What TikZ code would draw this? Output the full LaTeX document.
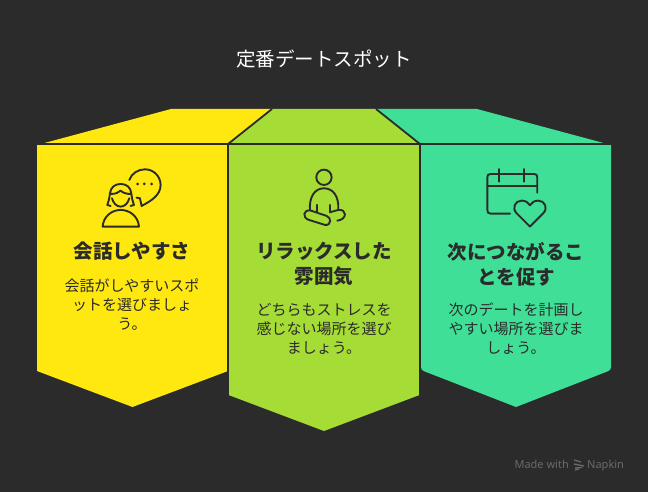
\documentclass[tikz,border=0pt]{standalone}
\usepackage{fontspec}
\setmainfont{Noto Sans CJK JP}
\newfontfamily\latinfont{Noto Sans}
\definecolor{bgc}{HTML}{2B2B2B}
\definecolor{yel}{HTML}{FFE80F}
\definecolor{lim}{HTML}{A5DC36}
\definecolor{tea}{HTML}{40DF97}
\definecolor{ink}{HTML}{2B2B2B}
\definecolor{wm}{HTML}{6A6A6A}
\tikzset{
  titletext/.style={text=white,font=\fontsize{19.5}{24}\selectfont,anchor=center},
  headtext/.style={text=ink,font=\fontsize{19.5}{25}\bfseries\selectfont,align=center,anchor=center},
  bodytext/.style={text=ink,font=\fontsize{15}{19}\selectfont,align=center,anchor=center},
  rule/.style={draw=ink,line width=1.8pt},
  wmtext/.style={text=wm,inner sep=0pt,font=\latinfont\fontsize{11}{13}\selectfont},
  icon/.style={draw=ink,line width=1.9pt,line cap=round,line join=round,fill=none}
}
\begin{document}
\begin{tikzpicture}[x=1pt,y=-1pt]
\useasboundingbox (0,0) rectangle (648,492);
\fill[bgc] (0,0) rectangle (648,492);
% panels
\fill[yel] (37,145) -- (171,109) -- (272,109) -- (228,145) -- (228,371) -- (132.5,407) -- (37,371) -- cycle;
\fill[tea] (420,145) -- (376,109) -- (477,109) -- (611,145) -- (611,367) .. controls (611,369) and (610,370.5) .. (608,371.2) -- (516,407) -- (424,371.2) .. controls (422,370.5) and (421,369) .. (421,367) -- cycle;
\fill[lim] (228,145) -- (272,109) -- (376,109) -- (420,145) -- (419.5,395) -- (324,431) -- (228.5,395) -- cycle;
\fill[bgc] (227.2,144) rectangle (229,372);
\fill[bgc] (419,144) rectangle (421,372);
\draw[rule] (37,144) -- (611,144);
\draw[rule] (228,144) -- (272,109);
\draw[rule] (420,144) -- (376,109);
\draw[rule] (228,144) -- (228,395);
\draw[rule] (420,144) -- (420,395);
% texts
\node[titletext] (title) at (324,59) {定番デートスポット};
\node[headtext] (h1) at (132,251) {会話しやすさ};
\node[bodytext] (b1) at (132,305) {会話がしやすいスポ\\ットを選びましょ\\う。};
\node[headtext] (h2) at (324,264) {リラックスした\\雰囲気};
\node[bodytext] (b2) at (324,329) {どちらもストレスを\\感じない場所を選び\\ましょう。};
\node[headtext] (h3) at (516,264) {次につながるこ\\とを促す};
\node[bodytext] (b3) at (516,329) {次のデートを計画し\\やすい場所を選びま\\しょう。};
\node[wmtext,anchor=base east] (wm1) at (569,468) {Made with};
\node[wmtext,anchor=base west] (wm2) at (587,468) {Napkin};
\begin{scope}[wm,line width=1.3pt]
\draw (574,460) -- (581,462);
\draw (574,464) -- (584,466);
\draw (575,468) -- (582,467.5);
\draw (575,470) -- (579,469);
\end{scope}
% icon 1
\begin{scope}[shift={(90,150)},x=0.333pt,y=-0.333pt]
\draw[icon] (118,90) .. controls (125,70) and (145,58) .. (165,58) .. controls (192,58) and (212,80) .. (212,105) .. controls (212,135) and (185,152) .. (155,168) -- (150,145) -- (140,143);
\fill[ink] (143,102) circle (4.5) (163,102) circle (4.5) (185,102) circle (4.5);
\draw[icon] (60,130) .. controls (62,112) and (75,102) .. (92,102) .. controls (110,102) and (122,112) .. (124,130) .. controls (126,145) and (128,155) .. (132,165) -- (122,168);
\draw[icon] (60,130) .. controls (58,145) and (56,155) .. (52,165) -- (62,168);
\draw[icon] (62,132) .. controls (78,132) and (85,128) .. (92,122) .. controls (100,130) and (112,132) .. (122,132);
\draw[icon] (66,145) .. controls (70,160) and (80,170) .. (92,170) .. controls (104,170) and (114,160) .. (118,145);
\draw[icon] (38,230) .. controls (40,200) and (65,180) .. (92,180) .. controls (120,180) and (145,200) .. (147,230) -- cycle;
\end{scope}
% icon 2
\begin{scope}[shift={(285,155)},x=0.333pt,y=-0.333pt]
\draw[icon] (117,67) circle (23);
\draw[icon] (75,165) .. controls (72,125) and (90,100) .. (117,100) .. controls (145,100) and (162,125) .. (160,162);
\draw[icon] (97,150) -- (97,172);
\draw[icon] (135,150) -- (135,172) -- (160,165) .. controls (172,163) and (180,170) .. (180,178) .. controls (180,188) and (170,196) .. (157,197);
\draw[icon] (78,167) -- (125,183) .. controls (140,188) and (140,212) .. (120,210) -- (72,195) .. controls (50,188) and (55,162) .. (78,167) -- cycle;
\end{scope}
% icon 3
\begin{scope}[shift={(475,160)},x=0.333pt,y=-0.333pt]
\draw[icon] (105,161) -- (47,161) .. controls (40,161) and (37,158) .. (37,150) -- (37,52) .. controls (37,45) and (40,42) .. (47,42) -- (177,42) .. controls (184,42) and (187,45) .. (187,52) -- (187,98);
\draw[icon] (37,78) -- (187,78);
\draw[icon] (73,27) -- (73,65);
\draw[icon] (148,27) -- (148,65);
\draw[icon] (165,200) -- (125,160) .. controls (110,145) and (120,122) .. (140,122) .. controls (152,122) and (160,128) .. (165,136) .. controls (170,128) and (178,122) .. (190,122) .. controls (210,122) and (220,145) .. (205,160) -- cycle;
\end{scope}
\end{tikzpicture}
\end{document}
